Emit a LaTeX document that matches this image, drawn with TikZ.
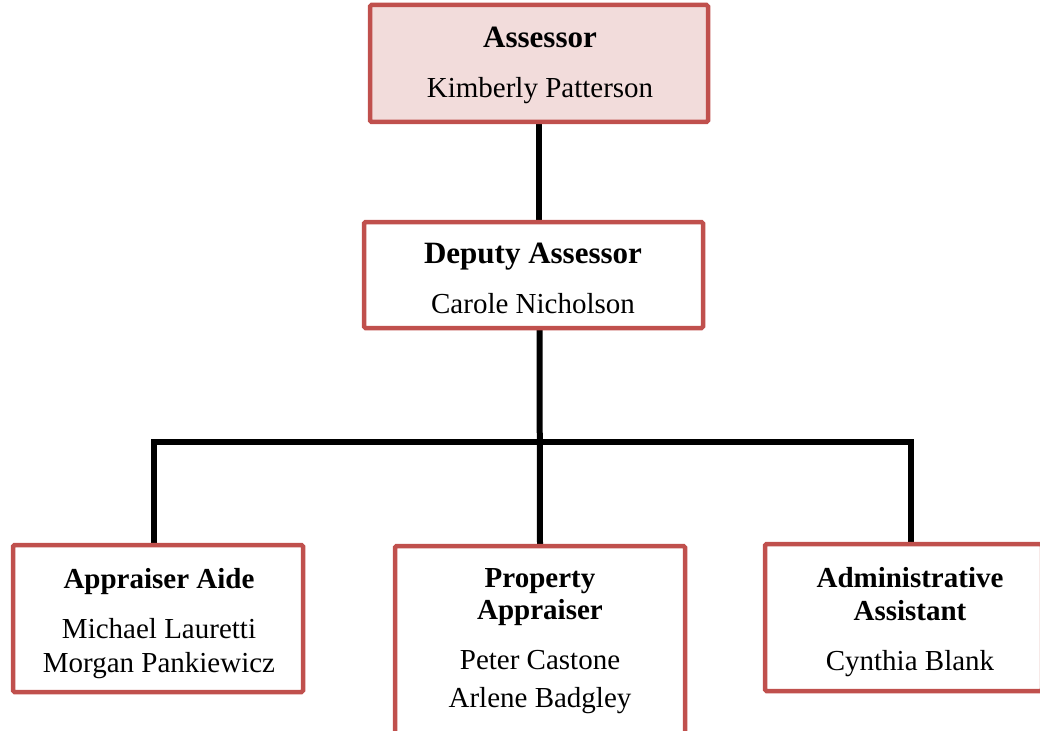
\documentclass[tikz,border=0pt]{standalone}
\usepackage{fontspec}
\setmainfont{Liberation Serif}
\definecolor{boxred}{HTML}{C0504D}
\definecolor{boxpink}{HTML}{F2DCDB}
\begin{document}
\begin{tikzpicture}[x=1pt,y=-1pt,
  box/.style={draw=boxred,line width=4.5pt,fill=white,rounded corners=1.5pt,inner sep=0pt,outer sep=0pt,rectangle},
  conn/.style={draw=black,line width=6pt,line join=miter},
  ttl/.style={anchor=base,font=\fontsize{31}{33}\selectfont\bfseries,inner sep=0pt},
  ttls/.style={anchor=base,font=\fontsize{29}{31}\selectfont\bfseries,inner sep=0pt},
  nm/.style={anchor=base,font=\fontsize{29}{31}\selectfont,inner sep=0pt}]
\path[use as bounding box] (0,0) rectangle (1040,730);
\clip (0,0) rectangle (1040,730);
% boxes (shapes only, for anchors)
\path (539,63.5) coordinate (cA);
\path (533.5,275) coordinate (cD);
\path (158,618.5) coordinate (cL);
\path (540,643) coordinate (cM);
\path (903.5,617.5) coordinate (cR);
\node[minimum width=338pt,minimum height=117pt,inner sep=0pt,outer sep=0pt] (assessor) at (cA) {};
\node[minimum width=339pt,minimum height=106pt,inner sep=0pt,outer sep=0pt] (deputy) at (cD) {};
\node[minimum width=290pt,minimum height=147pt,inner sep=0pt,outer sep=0pt] (aide) at (cL) {};
\node[minimum width=290pt,minimum height=194pt,inner sep=0pt,outer sep=0pt] (appr) at (cM) {};
\node[minimum width=277pt,minimum height=147pt,inner sep=0pt,outer sep=0pt] (admin) at (cR) {};
% connectors
\coordinate (bus) at (540,442);
\draw[conn] (assessor.south) -- (assessor.south |- deputy.north);
\draw[conn] ([xshift=6pt]deputy.south) -- (appr.north);
\draw[conn] ([xshift=-4pt]aide.north) |- (bus) -| ([xshift=7pt]admin.north);
% visible boxes
\draw[box,fill=boxpink] (assessor.north west) rectangle (assessor.south east);
\draw[box] (deputy.north west) rectangle (deputy.south east);
\draw[box] (aide.north west) rectangle (aide.south east);
\draw[box] (appr.north west) rectangle (appr.south east);
\draw[box] (admin.north west) rectangle (admin.south east);
% texts
\node[ttl] (tA) at (540,48) {Assessor};
\node[nm] (nA) at (540,98) {Kimberly Patterson};
\node[ttl] (tD) at (533,263) {Deputy Assessor};
\node[nm] (nD) at (533,313) {Carole Nicholson};
\node[ttls] (tL) at (159,588) {Appraiser Aide};
\node[nm] (nL1) at (159,638) {Michael Lauretti};
\node[nm] (nL2) at (159,672) {Morgan Pankiewicz};
\node[ttls] (tM1) at (540,587) {Property};
\node[ttls] (tM2) at (540,619) {Appraiser};
\node[nm] (nM1) at (540,669) {Peter Castone};
\node[nm] (nM2) at (540,707) {Arlene Badgley};
\node[ttls] (tR1) at (910,587) {Administrative};
\node[ttls] (tR2) at (910,620) {Assistant};
\node[nm] (nR) at (910,670) {Cynthia Blank};
\end{tikzpicture}
\end{document}
